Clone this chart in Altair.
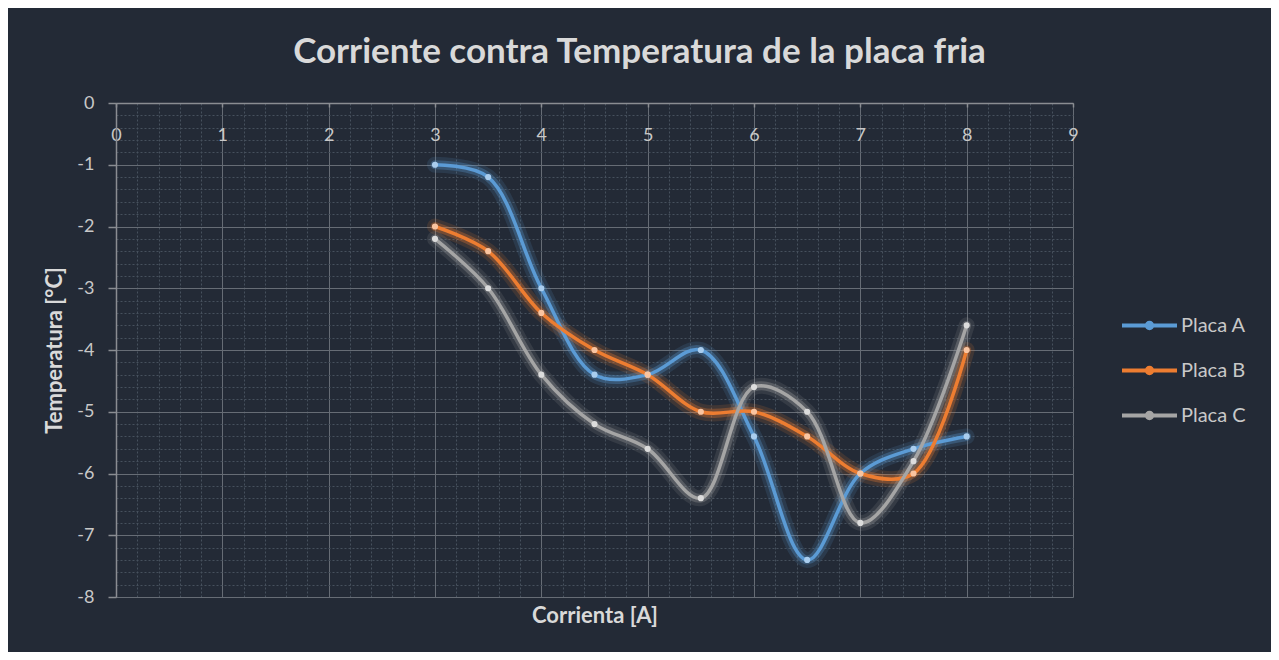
import altair as alt
import pandas as pd

# ---- data ----
corriente = [3, 3.5, 4, 4.5, 5, 5.5, 6, 6.5, 7, 7.5, 8]
placa_a = [-1.0, -1.2, -3.0, -4.4, -4.4, -4.0, -5.4, -7.4, -6.0, -5.6, -5.4]
placa_b = [-2.0, -2.4, -3.4, -4.0, -4.4, -5.0, -5.0, -5.4, -6.0, -6.0, -4.0]
placa_c = [-2.2, -3.0, -4.4, -5.2, -5.6, -6.4, -4.6, -5.0, -6.8, -5.8, -3.6]
series = ["Placa A", "Placa B", "Placa C"]
line_colors = ["#5b9bd5", "#ed7d31", "#a5a5a5"]
point_colors = ["#a9cdee", "#f9c4a0", "#dcdcdc"]
x_ticks = [0, 1, 2, 3, 4, 5, 6, 7, 8, 9]
y_ticks = [0, -1, -2, -3, -4, -5, -6, -7, -8]
x_minor = [i / 5 for i in range(0, 46)]
y_minor = [-i / 5 for i in range(0, 41)]

rows = []
for name, vals in zip(series, [placa_a, placa_b, placa_c]):
    for c, t in zip(corriente, vals):
        rows.append({"corriente": c, "temp": t, "serie": name})
df = pd.DataFrame(rows)

W, H = 957, 494
FONT = "Lato"
BG = "#232a36"
LABEL_EXPR = "datum.value + ''"

xs = alt.Scale(domain=[0, 9], nice=False, zero=False)
ys = alt.Scale(domain=[-8, 0], nice=False, zero=False)

legend_path = "M-1,0L1,0M-0.1,0A0.1,0.1,0,1,1,0.1,0A0.1,0.1,0,1,1,-0.1,0Z"
legend = alt.Legend(title=None, orient="none", legendX=1004, legendY=193,
                    symbolType=legend_path, symbolSize=3025, symbolStrokeWidth=4, symbolOpacity=1,
                    labelFont=FONT, labelFontSize=20, labelColor="#c8c8c8",
                    labelOffset=2, rowPadding=4, padding=0)
color = alt.Color("serie:N", scale=alt.Scale(domain=series, range=line_colors), legend=legend)

base = alt.Chart(df)

# layer 1: outer glow + minor grid
glow1 = base.mark_line(interpolate="catmull-rom", strokeWidth=16, opacity=0.14, strokeCap="round").encode(
    x=alt.X("corriente:Q", scale=xs, axis=alt.Axis(values=x_minor, grid=True, gridColor="#46505d",
            gridDash=[2, 2], gridWidth=1, labels=False, ticks=False, domain=False, title=None, orient="bottom")),
    y=alt.Y("temp:Q", scale=ys, axis=alt.Axis(values=y_minor, grid=True, gridColor="#46505d",
            gridDash=[2, 2], gridWidth=1, labels=False, ticks=False, domain=False, title=None, orient="left")),
    color=color,
)

# layer 2: inner glow + major grid, y labels, titles
glow2 = base.mark_line(interpolate="catmull-rom", strokeWidth=9, opacity=0.3, strokeCap="round").encode(
    x=alt.X("corriente:Q", scale=xs, axis=alt.Axis(values=x_ticks, grid=True, gridColor="#666c75",
            gridWidth=1, labels=False, ticks=False, domain=False, title="Corrienta [A]", orient="bottom",
            titleFont=FONT, titleFontSize=22, titleFontWeight="bold", titleColor="#d9d9d9", titlePadding=8)),
    y=alt.Y("temp:Q", scale=ys, axis=alt.Axis(values=y_ticks, grid=True, gridColor="#666c75", gridWidth=1,
            labels=True, labelFont=FONT, labelFontSize=18, labelColor="#c8c8c8", labelPadding=14,
            labelExpr=LABEL_EXPR,
            ticks=True, tickSize=8, tickColor="#8a8d92", tickWidth=1.5, domain=True, domainColor="#8a8d92",
            domainWidth=1.5, title="Temperatura [°C]", titleFont=FONT, titleFontSize=22,
            titleFontWeight="bold", titleColor="#d9d9d9", titlePadding=10, orient="left")),
    color=color,
)

# layer 3: main lines + x labels along y=0 + legend
lines = base.mark_line(interpolate="catmull-rom", strokeWidth=3.5, strokeCap="round").encode(
    x=alt.X("corriente:Q", scale=xs, axis=alt.Axis(values=x_ticks, grid=False, labels=True, labelFont=FONT,
            labelFontSize=18, labelColor="#c8c8c8", labelPadding=19, labelFlush=False, labelExpr=LABEL_EXPR,
            ticks=True, tickSize=4,
            tickColor="#8a8d92", tickWidth=1.5, domain=True, domainColor="#8a8d92", domainWidth=1.5,
            title=None, orient="bottom", offset=-H)),
    y=alt.Y("temp:Q", scale=ys, axis=None),
    color=color,
)

points = base.mark_circle(size=38, opacity=1).encode(
    x=alt.X("corriente:Q", scale=xs, axis=None),
    y=alt.Y("temp:Q", scale=ys, axis=None),
    fill=alt.Fill("serie:N", scale=alt.Scale(domain=series, range=point_colors), legend=None),
)

chart = alt.layer(glow1, glow2, lines, points).resolve_axis(
    x="independent", y="independent"
).properties(
    width=W,
    height=H,
    autosize=alt.AutoSizeParams(type="none"),
    padding={"left": 108, "top": 95, "right": 198, "bottom": 55},
    background=BG,
    title=alt.TitleParams("Corriente contra Temperatura de la placa fria", font=FONT, fontSize=35,
                          fontWeight="bold", color="#d9d9d9", anchor="middle", dx=45, offset=24),
).configure_view(stroke=None)

chart.save("out.html", embed_options={"renderer": "svg", "actions": False})
